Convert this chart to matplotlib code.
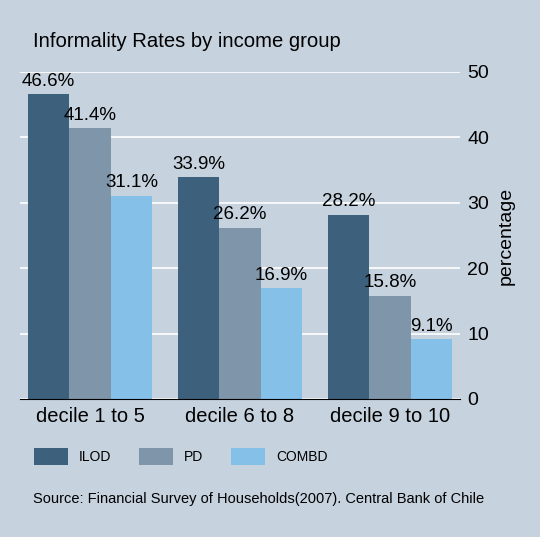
import numpy as np
import matplotlib.pyplot as plt
plt.rcParams.update({
    'font.family': ['Liberation Sans', 'DejaVu Sans'],
    'font.size': 12,
})

groups = ['decile 1 to 5', 'decile 6 to 8', 'decile 9 to 10']
series = ['ILOD', 'PD', 'COMBD']
ilod = [46.6, 33.9, 28.2]
pd_ = [41.4, 26.2, 15.8]
combd = [31.1, 16.9, 9.1]
colors = ['#3d617c', '#7f95aa', '#85c0e9']
bg = '#c6d2de'

fig = plt.figure(figsize=(5.4, 5.37), dpi=100, facecolor=bg)
ax = fig.add_axes([0.037, 0.257, 0.815, 0.609], facecolor=bg)

x = np.arange(len(groups))
w = 0.277
for i, (vals, name) in enumerate(zip([ilod, pd_, combd], series)):
    bars = ax.bar(x + (i - 1) * w, vals, w, color=colors[i], label=name, zorder=3)
    for b, v in zip(bars, vals):
        ax.annotate(f'{v}%', (b.get_x() + b.get_width() / 2, v),
                    xytext=(0, 3), textcoords='offset points',
                    ha='center', va='bottom', fontsize=13.5, zorder=4)

ax.set_xlim(-0.467, 2.467)
ax.set_ylim(0, 50)
ax.set_yticks([0, 10, 20, 30, 40, 50])
ax.yaxis.tick_right()
ax.yaxis.set_label_position('right')
ax.set_ylabel('percentage', fontsize=14, labelpad=6)
ax.tick_params(axis='y', length=0, pad=5, labelsize=14)
ax.tick_params(axis='x', length=0, pad=6, labelsize=14.5)
ax.set_xticks(x)
ax.set_xticklabels(groups)
ax.grid(axis='y', color='white', linewidth=1.2, zorder=0)
for s in ['top', 'left', 'right']:
    ax.spines[s].set_visible(False)
ax.spines['bottom'].set_color('black')
ax.spines['bottom'].set_zorder(5)

fig.text(0.061, 0.922, 'Informality Rates by income group', fontsize=14.6, va='center')

leg = fig.legend(loc='center left', bbox_to_anchor=(0.039, 0.150), ncol=3,
                 frameon=False, fontsize=10, handlelength=2.45, handleheight=1.5,
                 columnspacing=2.0, handletextpad=0.8)

fig.text(0.061, 0.071, 'Source: Financial Survey of Households(2007). Central Bank of Chile',
         fontsize=10.5, va='center')

fig.savefig('out.png', dpi=100, facecolor=bg)
